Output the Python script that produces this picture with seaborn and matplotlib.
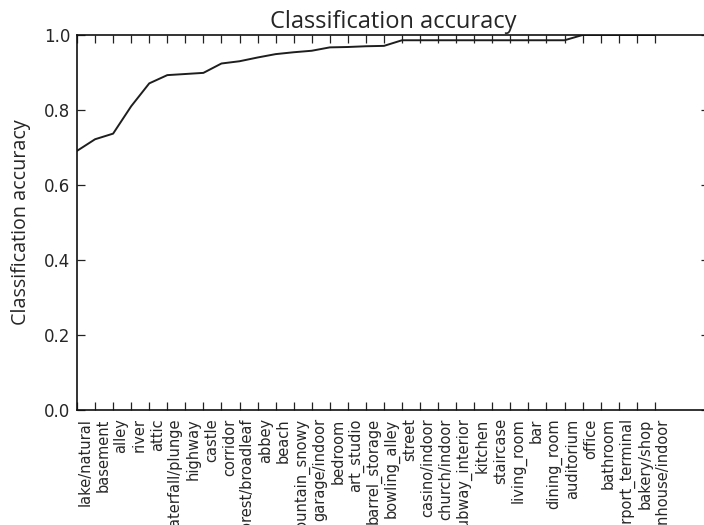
import matplotlib
matplotlib.use("Agg")
import matplotlib.pyplot as plt
import numpy as np
import pandas as pd
import seaborn as sns

# Scene categories, sorted by per-class accuracy
categories = [
    "lake/natural", "basement", "alley", "river", "attic", "waterfall/plunge",
    "highway", "castle", "corridor", "forest/broadleaf", "abbey", "beach",
    "mountain_snowy", "garage/indoor", "bedroom", "art_studio", "barrel_storage",
    "bowling_alley", "street", "casino/indoor", "church/indoor", "subway_interior",
    "kitchen", "staircase", "living_room", "bar", "dining_room", "auditorium",
    "office", "bathroom", "airport_terminal", "bakery/shop", "greenhouse/indoor",
]
accuracy = [
    0.691, 0.722, 0.737, 0.810, 0.871, 0.893,
    0.896, 0.899, 0.924, 0.930, 0.940, 0.949,
    0.954, 0.958, 0.967, 0.968, 0.970,
    0.971, 0.986, 0.986, 0.986, 0.986,
    0.986, 0.986, 0.986, 0.986, 0.986, 0.986,
    1.000, 1.000, 1.000, 1.000, 1.000,
]
y_ticks = [0.0, 0.2, 0.4, 0.6, 0.8, 1.0]

df = pd.DataFrame({"idx": np.arange(len(categories)), "acc": accuracy, "cat": categories})

sns.set_style("ticks")
plt.rcParams["font.family"] = ["DejaVu Sans"]

fig = plt.figure(figsize=(7.04, 5.25), dpi=100)
ax = fig.add_axes([77 / 704, 115 / 525, (709 - 77) / 704, 375 / 525])

sns.lineplot(data=df, x="idx", y="acc", ax=ax, color="#1e1e1e", linewidth=1.4)

ax.set_xlim(0, 35)
ax.set_ylim(0, 1.0)
ax.set_yticks(y_ticks)
ax.set_yticklabels([f"{v:.1f}" for v in y_ticks], fontsize=12)

# Tick marks sit on each category; the names are drawn just to the right of them
ax.set_xticks(df["idx"])
ax.set_xticklabels([])
ax.set_xticks(df["idx"] + 0.44, minor=True)
ax.set_xticklabels(categories, minor=True, rotation=90, fontsize=10.5, va="top", ha="center")

ax.tick_params(which="major", direction="in", length=6, width=0.9,
               top=True, right=True, color="#222222")
ax.tick_params(axis="x", which="minor", length=0, pad=6, top=False)
ax.tick_params(axis="y", which="minor", left=False, right=False)
ax.tick_params(axis="y", pad=5)
for sp in ax.spines.values():
    sp.set_visible(True)
    sp.set_color("#111111")
    sp.set_linewidth(1.2)

ax.set_xlabel("")
ax.set_ylabel("Classification accuracy", fontsize=14.2, family=["Open Sans", "DejaVu Sans"], labelpad=9)
ax.set_title("Classification accuracy", fontsize=17, family=["Open Sans", "DejaVu Sans"], pad=5)

fig.savefig("out.png", dpi=100)
